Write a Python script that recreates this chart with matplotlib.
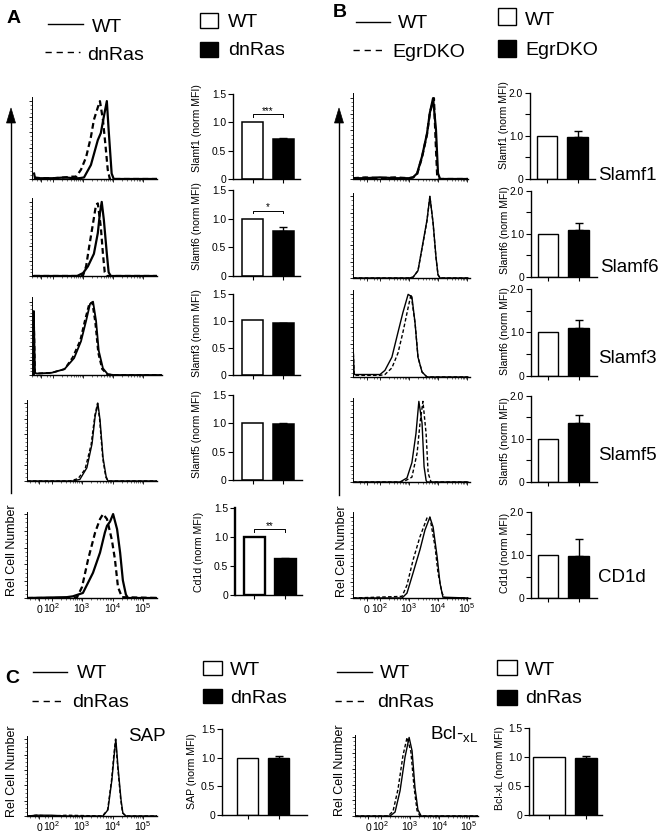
import matplotlib
matplotlib.use("Agg")
import matplotlib.pyplot as plt
from matplotlib.lines import Line2D
from matplotlib.patches import Rectangle, Polygon
import numpy as np

plt.rcParams['font.family'] = ['Liberation Sans', 'DejaVu Sans']
plt.rcParams['mathtext.fontset'] = 'custom'
plt.rcParams['mathtext.rm'] = 'Liberation Sans'
plt.rcParams['mathtext.it'] = 'Liberation Sans:italic'
plt.rcParams['mathtext.bf'] = 'Liberation Sans:bold'

# ---------------- DATA ----------------
# Histogram curves: x in display decades (0 -> ~1.68, 10^2 -> 2, 10^3 -> 3 ...), y in % of max
A_slamf1_wt_x = [1.37, 1.40, 1.6, 2.0, 2.4, 2.7, 2.87, 3.03, 3.26, 3.49, 3.59, 3.69, 3.79, 3.85, 3.95, 4.02, 4.5, 5.45]
A_slamf1_wt_y = [7, 1, 1, 1, 2, 1, 1, 2, 18, 50, 59, 80, 100, 63, 7, 0, 0, 0]
A_slamf1_dn_x = [1.37, 1.6, 2.0, 2.4, 2.6, 2.77, 2.93, 3.10, 3.26, 3.36, 3.49, 3.56, 3.66, 3.75, 3.82, 3.89, 4.0, 5.45]
A_slamf1_dn_y = [2, 1, 1, 2, 3, 3, 12, 28, 54, 76, 92, 100, 76, 41, 12, 0, 0, 0]

A_slamf6_wt_x = [1.37, 2.0, 2.8, 3.0, 3.16, 3.36, 3.49, 3.56, 3.62, 3.69, 3.79, 3.85, 3.92, 5.45]
A_slamf6_wt_y = [0, 0, 0, 4, 13, 30, 58, 85, 100, 76, 30, 5, 0, 0]
A_slamf6_dn_x = [1.37, 2.9, 3.0, 3.10, 3.20, 3.33, 3.43, 3.49, 3.59, 3.66, 3.72, 3.79, 5.45]
A_slamf6_dn_y = [0, 0, 1, 13, 39, 71, 96, 98, 66, 30, 5, 0, 0]

A_slamf3_wt_x = [1.36, 1.36, 1.40, 1.46, 1.95, 2.38, 2.70, 2.93, 3.10, 3.23, 3.33, 3.43, 3.52, 3.66, 3.82, 4.02, 5.6]
A_slamf3_wt_y = [0, 87, 3, 2, 3, 8, 23, 46, 74, 97, 100, 74, 33, 9, 1, 0, 0]
A_slamf3_dn_x = [1.36, 1.36, 1.40, 1.46, 1.95, 2.38, 2.65, 2.90, 3.06, 3.20, 3.30, 3.40, 3.50, 3.63, 3.80, 4.0, 5.6]
A_slamf3_dn_y = [0, 87, 3, 2, 3, 8, 24, 47, 75, 97, 99, 72, 30, 8, 1, 0, 0]

A_slamf5_wt_x = [1.2, 2.6, 2.70, 2.93, 3.16, 3.33, 3.43, 3.52, 3.59, 3.69, 3.79, 3.85, 5.45]
A_slamf5_wt_y = [0, 0, 0, 2, 17, 48, 83, 100, 79, 30, 6, 0, 0]
A_slamf5_dn_x = [1.2, 2.6, 2.87, 3.10, 3.30, 3.42, 3.51, 3.58, 3.68, 3.78, 3.85, 5.45]
A_slamf5_dn_y = [0, 0, 3, 15, 47, 84, 100, 78, 29, 5, 0, 0]

A_cd1d_wt_x = [1.2, 2.5, 2.70, 3.03, 3.36, 3.59, 3.75, 3.82, 3.92, 4.02, 4.15, 4.25, 4.34, 4.44, 4.51, 5.45]
A_cd1d_wt_y = [0, 1, 2, 6, 30, 54, 78, 86, 91, 100, 82, 54, 21, 4, 0, 0]
A_cd1d_dn_x = [1.2, 2.6, 2.84, 3.0, 3.20, 3.43, 3.59, 3.69, 3.82, 3.98, 4.08, 4.18, 4.31, 5.45]
A_cd1d_dn_y = [0, 0, 1, 13, 46, 78, 94, 100, 94, 69, 46, 13, 1, 0]

B_slamf1_wt_x = [1.07, 1.5, 2.0, 2.5, 3.0, 3.14, 3.28, 3.45, 3.62, 3.72, 3.83, 3.93, 4.0, 4.07, 5.03]
B_slamf1_wt_y = [1, 1, 2, 1, 1, 2, 7, 28, 56, 82, 100, 61, 7, 0, 0]
B_slamf1_ko_x = [1.07, 1.5, 2.0, 2.5, 3.0, 3.14, 3.28, 3.45, 3.62, 3.72, 3.86, 3.92, 3.97, 4.03, 5.03]
B_slamf1_ko_y = [1, 2, 1, 2, 1, 2, 6, 27, 55, 82, 100, 45, 5, 0, 0]

B_slamf6_wt_x = [1.07, 2.0, 3.0, 3.14, 3.31, 3.48, 3.62, 3.72, 3.83, 3.93, 4.0, 4.07, 5.03]
B_slamf6_wt_y = [0, 0, 0, 1, 9, 43, 71, 100, 68, 26, 4, 0, 0]
B_slamf6_ko_x = [1.07, 2.0, 3.0, 3.14, 3.31, 3.48, 3.62, 3.72, 3.83, 3.93, 4.0, 4.07, 5.03]
B_slamf6_ko_y = [0, 0, 0, 1, 9, 42, 70, 100, 67, 25, 4, 0, 0]

B_slamf3_wt_x = [1.07, 1.07, 1.11, 1.14, 2.0, 2.17, 2.41, 2.62, 2.79, 2.97, 3.10, 3.21, 3.31, 3.45, 3.62, 5.03]
B_slamf3_wt_y = [0, 39, 3, 3, 3, 8, 24, 54, 78, 100, 97, 65, 24, 6, 0, 0]
B_slamf3_ko_x = [1.07, 1.07, 1.11, 1.14, 2.0, 2.17, 2.41, 2.62, 2.79, 2.97, 3.07, 3.21, 3.31, 3.45, 3.62, 5.03]
B_slamf3_ko_y = [0, 39, 2, 2, 2, 3, 11, 29, 54, 84, 100, 65, 24, 6, 0, 0]

B_slamf5_wt_x = [1.07, 2.69, 2.93, 3.10, 3.24, 3.34, 3.45, 3.52, 3.59, 3.62, 5.03]
B_slamf5_wt_y = [0, 0, 5, 24, 60, 100, 73, 19, 2, 0, 0]
B_slamf5_ko_x = [1.07, 2.79, 3.10, 3.28, 3.38, 3.48, 3.59, 3.66, 3.76, 5.03]
B_slamf5_ko_y = [0, 0, 6, 36, 73, 100, 60, 11, 0, 0]

B_cd1d_wt_x = [1.07, 2.76, 2.93, 3.14, 3.38, 3.55, 3.72, 3.83, 3.97, 4.07, 4.17, 5.03]
B_cd1d_wt_y = [0, 0, 6, 31, 60, 84, 100, 88, 51, 18, 1, 0]
B_cd1d_ko_x = [1.07, 2.76, 2.93, 3.14, 3.38, 3.62, 3.72, 3.90, 4.0, 4.14, 4.24, 5.03]
B_cd1d_ko_y = [0, 2, 16, 47, 76, 99, 100, 63, 31, 6, 0, 0]

C_sap_wt_x = [1.23, 1.5, 2.0, 2.5, 3.69, 3.85, 3.98, 4.05, 4.11, 4.18, 4.28, 4.34, 4.44, 5.46]
C_sap_wt_y = [0, 1, 1, 0, 0, 8, 47, 77, 100, 64, 21, 4, 0, 0]
C_sap_dn_x = [1.23, 1.5, 2.0, 2.5, 3.67, 3.84, 3.97, 4.04, 4.10, 4.17, 4.27, 4.33, 4.43, 5.46]
C_sap_dn_y = [0, 1, 0, 1, 0, 8, 47, 78, 100, 64, 21, 4, 0, 0]

C_bcl_wt_x = [1.12, 2.32, 2.49, 2.66, 2.83, 2.97, 3.07, 3.17, 3.27, 3.38, 5.32]
C_bcl_wt_y = [0, 0, 5, 32, 75, 100, 83, 36, 8, 0, 0]
C_bcl_dn_x = [1.12, 2.25, 2.42, 2.59, 2.76, 2.90, 3.03, 3.14, 3.24, 3.34, 5.32]
C_bcl_dn_y = [0, 0, 6, 34, 77, 100, 82, 36, 7, 0, 0]

# Bar data (normalized MFI)
A_markers = ['Slamf1', 'Slamf6', 'Slamf3', 'Slamf5', 'Cd1d']
A_wt = [1.01, 1.0, 1.01, 1.0, 1.0]
A_dn = [0.70, 0.78, 0.955, 0.98, 0.62]
A_dn_err = [0.03, 0.07, 0.015, 0.03, 0.02]
A_sig = ['***', '*', '', '', '**']
A_sig_level = [1.14, 1.14, 0, 0, 1.13]

B_markers = ['Slamf1', 'Slamf6', 'Slamf3', 'Slamf5', 'CD1d']
B_ylabels = ['Slamf1 (norm MFI)', 'Slamf6 (norm MFI)', 'Slamf6 (norm MFI)', 'Slamf5 (norm MFI)', 'Cd1d (norm MFI)']
B_wt = [1.0, 1.0, 1.0, 1.0, 1.0]
B_ko = [0.98, 1.10, 1.10, 1.38, 0.97]
B_ko_err = [0.14, 0.15, 0.19, 0.17, 0.41]

C_markers = ['SAP', 'Bcl-xL']
C_wt = [1.0, 1.0]
C_dn = [0.99, 0.98]
C_dn_err = [0.04, 0.04]

hist_tick_labels = ['0', r'$10^{2}$', r'$10^{3}$', r'$10^{4}$', r'$10^{5}$']
A_bar_ticks = [0, 0.5, 1.0, 1.5]
A_bar_ticklabels = ['0', '0.5', '1.0', '1.5']
B_bar_ticks = [0, 1.0, 2.0]
B_bar_ticklabels = ['0', '1.0', '2.0']

# ---------------- FIGURE ----------------
W, H = 661, 838
fig = plt.figure(figsize=(W / 100, H / 100), dpi=100)


def add_ax(l, t, r, b):
    return fig.add_axes([l / W, 1 - b / H, (r - l) / W, (b - t) / H])


def fx(x):
    return x / W


def fy(y):
    return 1 - y / H


minor_pos = [m + np.log10(k) for m in (2, 3, 4) for k in range(2, 10)] + [1.3, 1.45, 1.55, 1.8, 1.9]


def hist_axes(box, xlim, peak_frac, curves, lw, labels=False, zero_pos=1.69):
    ax = add_ax(*box)
    for xs, ys, ls in curves:
        if ls == '-':
            ax.plot(xs, ys, color='k', lw=lw, solid_joinstyle='round')
        else:
            ax.plot(xs, ys, color='k', lw=lw, ls=(0, (2.6, 1.6)))
    ax.set_xlim(*xlim)
    ax.set_ylim(0, 100 / peak_frac)
    for s in ('top', 'right'):
        ax.spines[s].set_visible(False)
    ax.spines['left'].set_linewidth(0.7)
    ax.spines['bottom'].set_linewidth(1.0)
    ax.set_yticks([0, 20, 40, 60, 80, 100])
    ax.set_yticks(list(range(5, 100, 5)), minor=True)
    ax.tick_params(axis='y', which='major', length=2.5, width=0.6, labelleft=False)
    ax.tick_params(axis='y', which='minor', length=1.2, width=0.4)
    ax.set_xticks([zero_pos, 2, 3, 4, 5])
    ax.set_xticks(minor_pos, minor=True)
    ax.tick_params(axis='x', which='major', length=2.5, width=0.6, labelsize=7.5, pad=8.5)
    ax.tick_params(axis='x', which='minor', length=1.5, width=0.4)
    if labels:
        ax.set_xticklabels(hist_tick_labels)
        for lbl in ax.get_xticklabels():
            lbl.set_verticalalignment('baseline')
    else:
        ax.tick_params(axis='x', labelbottom=False)
    ax.patch.set_alpha(0)
    return ax


def bar_axes(box, centers_px, bar_px, wt, mut, err, ymax, ticks, ticklabels, minor,
             ylabel, label_fs, label_dx_px, label_cy_px, spine_lw=1.0, bar_lw=1.0,
             sig='', sig_level=0):
    l, t, r, b = box
    ax = add_ax(l, t, r, b)
    c0, c1 = centers_px
    unit = c1 - c0
    xlim = (-(c0 - l) / unit, 1 + (r - c1) / unit)
    ax.bar([0], [wt], width=bar_px[0] / unit, color='white', edgecolor='k', lw=bar_lw, zorder=2)
    ax.bar([1], [mut], width=bar_px[1] / unit, color='k', edgecolor='k', lw=bar_lw, zorder=2)
    ax.errorbar([1], [mut], yerr=[[0], [err]], fmt='none', ecolor='k', elinewidth=1.0,
                capsize=3.2, capthick=1.0, zorder=3)
    ax.set_xlim(*xlim)
    ax.set_ylim(0, ymax)
    for s in ('top', 'right'):
        ax.spines[s].set_visible(False)
    ax.spines['left'].set_linewidth(spine_lw)
    ax.spines['bottom'].set_linewidth(1.0)
    ax.set_xticks([0, 1])
    ax.tick_params(axis='x', length=3, width=0.8, labelbottom=False)
    ax.set_yticks(ticks)
    ax.set_yticklabels(ticklabels)
    if minor:
        ax.set_yticks(minor, minor=True)
        ax.tick_params(axis='y', which='minor', length=3.5, width=0.8)
    ax.tick_params(axis='y', which='major', length=3.5, width=0.8, labelsize=7.4, pad=1.5)
    ax.set_ylabel(ylabel, fontsize=label_fs)
    ax.yaxis.set_label_coords(label_dx_px / (r - l), (b - label_cy_px) / (b - t))
    if sig:
        ax.plot([0, 0, 1, 1], [sig_level - 0.04 * ymax / 1.5, sig_level, sig_level,
                               sig_level - 0.04 * ymax / 1.5], color='k', lw=0.7)
        ax.text(0.5, sig_level + 0.01, sig, ha='center', va='baseline', fontsize=7)
    ax.patch.set_alpha(0)
    return ax


# ---- Panel A histograms ----
A_xmap = lambda px: 3 + (px - 82) / 30.5
A_hist_boxes = [(32, 97, 157, 179), (32, 198, 157, 276), (32, 297, 162, 375),
                (27, 400, 157, 481), (27, 512, 157, 598)]
A_peak = [0.95, 0.95, 0.94, 0.96, 0.976]
A_lw = [1.6, 1.6, 1.3, 1.0, 1.6]
A_curves = [
    [(A_slamf1_dn_x, A_slamf1_dn_y, '--'), (A_slamf1_wt_x, A_slamf1_wt_y, '-')],
    [(A_slamf6_dn_x, A_slamf6_dn_y, '--'), (A_slamf6_wt_x, A_slamf6_wt_y, '-')],
    [(A_slamf3_dn_x, A_slamf3_dn_y, '--'), (A_slamf3_wt_x, A_slamf3_wt_y, '-')],
    [(A_slamf5_dn_x, A_slamf5_dn_y, '--'), (A_slamf5_wt_x, A_slamf5_wt_y, '-')],
    [(A_cd1d_dn_x, A_cd1d_dn_y, '--'), (A_cd1d_wt_x, A_cd1d_wt_y, '-')],
]
for i, box in enumerate(A_hist_boxes):
    hist_axes(box, (A_xmap(box[0]), A_xmap(box[2])), A_peak[i], A_curves[i], A_lw[i],
              labels=(i == 4), zero_pos=1.6)

# ---- Panel A bars ----
A_bar_boxes = [(233, 94, 300, 179), (233, 190, 300, 276), (233, 294, 300, 375),
               (233, 395, 302, 480), (235, 508, 302, 595)]
A_label_cy = [128, 226, 333, 434, 552]
for i, box in enumerate(A_bar_boxes):
    bar_axes(box, (252.5 + box[0] - 233, 283 + box[0] - 233), (21, 21), A_wt[i], A_dn[i], A_dn_err[i],
             1.5, A_bar_ticks, A_bar_ticklabels, None,
             f'{A_markers[i]} (norm MFI)', 7.6, -31, A_label_cy[i],
             spine_lw=(1.7 if i == 4 else 1.0), bar_lw=(1.7 if i == 4 else 1.1),
             sig=A_sig[i], sig_level=A_sig_level[i])

# ---- Panel B histograms ----
B_xmap = lambda px: 3 + (px - 409) / 29.0
B_hist_boxes = [(353, 93, 468, 179), (353, 193, 470, 278), (353, 290, 470, 377),
                (353, 398, 470, 482), (353, 512, 470, 598)]
B_peak = [0.94, 0.96, 0.95, 0.96, 0.94]
B_lw = [1.6, 1.0, 1.0, 1.0, 1.0]
B_curves = [
    [(B_slamf1_ko_x, B_slamf1_ko_y, '--'), (B_slamf1_wt_x, B_slamf1_wt_y, '-')],
    [(B_slamf6_ko_x, B_slamf6_ko_y, '--'), (B_slamf6_wt_x, B_slamf6_wt_y, '-')],
    [(B_slamf3_ko_x, B_slamf3_ko_y, '--'), (B_slamf3_wt_x, B_slamf3_wt_y, '-')],
    [(B_slamf5_ko_x, B_slamf5_ko_y, '--'), (B_slamf5_wt_x, B_slamf5_wt_y, '-')],
    [(B_cd1d_ko_x, B_cd1d_ko_y, '--'), (B_cd1d_wt_x, B_cd1d_wt_y, '-')],
]
for i, box in enumerate(B_hist_boxes):
    hist_axes(box, (B_xmap(box[0]), B_xmap(box[2])), B_peak[i], B_curves[i], B_lw[i],
              labels=(i == 4), zero_pos=1.55)

# ---- Panel B bars ----
B_bar_boxes = [(530, 93, 595, 179), (531, 191, 597, 277), (531, 289, 597, 376),
               (531, 396, 597, 482), (531, 512, 597, 598)]
B_label_cy = [125, 230, 331, 441, 553]
for i, box in enumerate(B_bar_boxes):
    bar_axes(box, (547 + box[0] - 530, 577.5 + box[0] - 530), (20, 21), B_wt[i], B_ko[i], B_ko_err[i],
             2.0, B_bar_ticks, B_bar_ticklabels, [0.5, 1.5],
             B_ylabels[i], 7.6, -21, B_label_cy[i])

B_label_pos = [(598, 180), (600, 272), (598, 363), (598, 460), (598, 582)]
for name, (x, y) in zip(B_markers, B_label_pos):
    fig.text(fx(x), fy(y), name, fontsize=13.5, ha='left', va='baseline')

# ---- Panel C ----
hist_axes((27, 736, 157, 816), (A_xmap(27), A_xmap(157)), 0.96,
          [(C_sap_dn_x, C_sap_dn_y, '--'), (C_sap_wt_x, C_sap_wt_y, '-')], 1.0, labels=True,
          zero_pos=1.6)
C_xmap = lambda px: 3 + (px - 410) / 29.3
hist_axes((355, 735, 478, 816), (C_xmap(355), C_xmap(478)), 0.97,
          [(C_bcl_dn_x, C_bcl_dn_y, '--'), (C_bcl_wt_x, C_bcl_wt_y, '-')], 1.0, labels=True,
          zero_pos=1.57)

bar_axes((222, 729, 307, 815), (247.5, 278.5), (21, 21), C_wt[0], C_dn[0], C_dn_err[0],
         1.5, A_bar_ticks, A_bar_ticklabels, None, 'SAP (norm MFI)', 7.6, -25, 771)
bar_axes((529, 728, 602, 815), (549, 586), (32, 22), C_wt[1], C_dn[1], C_dn_err[1],
         1.5, A_bar_ticks, A_bar_ticklabels, None, 'Bcl-xL (norm MFI)', 7.6, -24, 768)

fig.text(fx(128), fy(741), 'SAP', fontsize=13.5, ha='left', va='baseline')
fig.text(fx(430), fy(739), r'Bcl-$_{\mathregular{xL}}$', fontsize=13.5, ha='left', va='baseline')

# ---------------- Decorations: legends, arrows, panel letters ----------------
def leg_line(x0, x1, y, dashed):
    fig.add_artist(Line2D([fx(x0), fx(x1)], [fy(y), fy(y)], color='k', lw=1.0,
                          ls=((0, (4.5, 3.5)) if dashed else '-'), transform=fig.transFigure))


def leg_box(x0, y0, x1, y1, filled):
    fig.add_artist(Rectangle((fx(x0), fy(y1)), (x1 - x0) / W, (y1 - y0) / H,
                             transform=fig.transFigure, facecolor=('k' if filled else 'white'),
                             edgecolor='k', lw=1.0))


def txt(x, y, s, size=14, weight='normal'):
    fig.text(fx(x), fy(y), s, fontsize=size, fontweight=weight, ha='left', va='baseline')


# A
txt(7, 23, 'A', 14, 'bold')
leg_line(48, 83, 24, False); txt(92, 32, 'WT')
leg_line(45, 80, 52, True); txt(87, 60, 'dnRas')
leg_box(200, 13, 218, 28, False); txt(228, 27, 'WT')
leg_box(200, 42, 218, 57, True); txt(228, 55, 'dnRas')
# B
txt(333, 17, 'B', 14, 'bold')
leg_line(356, 390, 22, False); txt(398, 28, 'WT')
leg_line(353, 385, 50, True); txt(392, 57, 'EgrDKO')
leg_box(498, 8, 516, 25, False); txt(525, 25, 'WT')
leg_box(498, 40, 516, 57, True); txt(525, 55, 'EgrDKO')
# C
txt(5, 683, 'C', 14, 'bold')
leg_line(33, 67, 672, False); txt(77, 678, 'WT')
leg_line(32, 63, 701, True); txt(72, 707, 'dnRas')
leg_box(203, 661, 222, 675, False); txt(230, 675, 'WT')
leg_box(203, 689, 222, 703, True); txt(230, 703, 'dnRas')
leg_line(337, 372, 672, False); txt(380, 678, 'WT')
leg_line(335, 367, 701, True); txt(377, 707, 'dnRas')
leg_box(497, 660, 517, 675, False); txt(525, 675, 'WT')
leg_box(497, 690, 517, 705, True); txt(525, 703, 'dnRas')


def arrow(x, y_bottom, y_tip):
    fig.add_artist(Line2D([fx(x), fx(x)], [fy(y_bottom), fy(y_tip + 10)], color='k', lw=1.0,
                          transform=fig.transFigure))
    fig.add_artist(Polygon([[fx(x), fy(y_tip)], [fx(x - 4.5), fy(y_tip + 15)], [fx(x + 4.5), fy(y_tip + 15)]],
                           closed=True, transform=fig.transFigure, facecolor='k', edgecolor='k', lw=0.5))


arrow(11, 493, 108)
arrow(339, 495, 108)

for (x, y) in [(12, 550), (342, 551), (12, 771), (340, 770)]:
    fig.text(fx(x), fy(y), 'Rel Cell Number', fontsize=9, rotation=90, ha='center', va='center')

fig.savefig('out.png', dpi=100)
